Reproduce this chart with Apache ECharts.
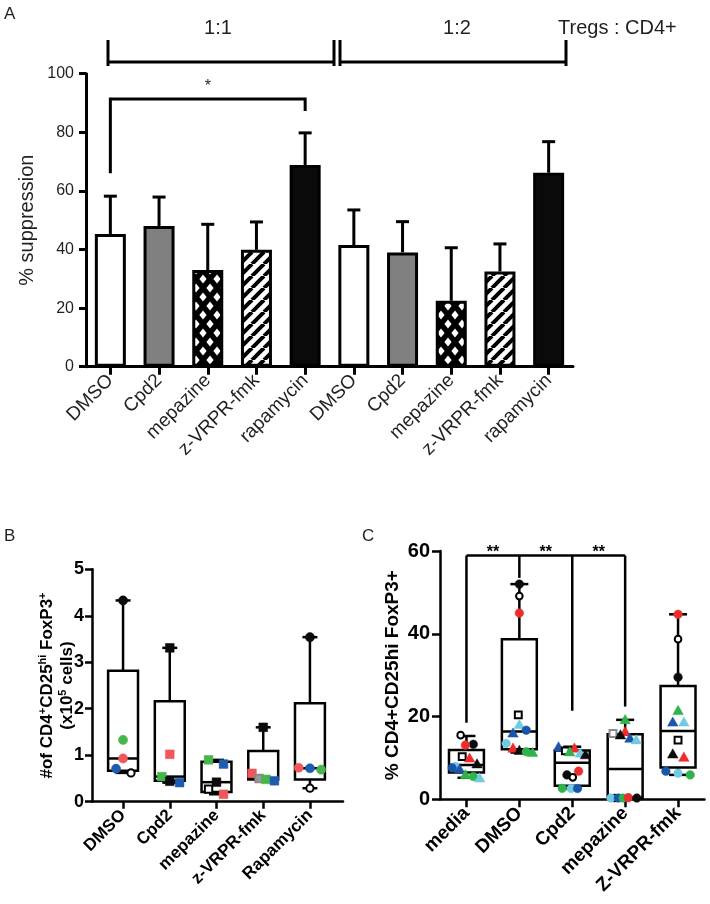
<!DOCTYPE html>
<html><head><meta charset="utf-8">
<script src="https://cdn.jsdelivr.net/npm/echarts@6/dist/echarts.min.js"></script>
<style>html,body{margin:0;padding:0;background:#fff}#c{width:710px;height:904px}</style>
</head><body><div id="c"></div>
<script>
// ---------------- Panel A data ----------------
const catsA = ['DMSO','Cpd2','mepazine','z-VRPR-fmk','rapamycin','DMSO','Cpd2','mepazine','z-VRPR-fmk','rapamycin'];
const meanA = [45.3, 48.0, 33.0, 39.9, 68.8, 41.5, 39.0, 22.5, 32.5, 66.2];
const sdA   = [12.9, 9.9, 15.6, 9.5, 11.0, 12.0, 10.5, 18.1, 9.4, 10.6];
const fillA = ['white','gray','cross','stripe','black','white','gray','cross','stripe','black'];
const groupLabelsA = ['1:1', '1:2', 'Tregs : CD4+'];
const sigPairA = [0, 4];
const sigLegsA = [66, 91.4, 87.3];
const sigTextA = '*';

// ---------------- Panel B data ----------------
const catsB = ['DMSO','Cpd2','mepazine','z-VRPR-fmk','Rapamycin'];
// [min, q1, median, q3, max]
const boxB = [
  [0.62, 0.665, 0.93, 2.82, 4.33],
  [0.41, 0.45, 0.54, 2.16, 3.31],
  [0.16, 0.21, 0.42, 0.86, 0.90],
  [0.45, 0.48, 0.50, 1.09, 1.60],
  [0.29, 0.48, 0.72, 2.12, 3.54]
];
const ptCatB = [0,0,0,0,0, 1,1,1,1,1, 2,2,2,2,2, 3,3,3,3,3, 4,4,4,4,4];
const ptValB = [4.33,1.33,0.93,0.71,0.62, 3.31,1.02,0.54,0.44,0.41, 0.90,0.81,0.42,0.27,0.16, 1.60,0.61,0.50,0.48,0.45, 3.54,0.73,0.72,0.69,0.29];
const ptMarkB = ['cK','cG','cR','cB','cO', 'sK','sR','sG','sK','sB', 'sG','sB','sK','sO','sR', 'sK','sR','sY','sG','sB', 'cK','cR','cB','cG','cO'];
const ptJitB = [0,0,0,-0.15,0.17, 0,0,-0.17,0,0.21, -0.17,0.15,0,-0.17,0.15, 0,-0.24,-0.09,0.06,0.24, 0,-0.24,0,0.24,0];

// ---------------- Panel C data ----------------
const catsC = ['media','DMSO','Cpd2','mepazine','Z-VRPR-fmk'];
const boxC = [
  [5.2, 6.5, 8.3, 11.9, 15.3],
  [11.3, 12.1, 16.4, 38.7, 52.0],
  [2.6, 3.3, 8.85, 11.8, 12.7],
  [0.3, 0.4, 7.3, 15.7, 19.2],
  [5.9, 7.7, 16.5, 27.4, 44.7]
];
const ptCatC = [].concat(...[0,1,2,3,4].map(i => Array(12).fill(i)));
const ptValC = [
  15.5,13.3,13.1,10.3,9.9,8.5,7.9,7.6,7.25,5.9,5.5,5.1,
  52.0,49.1,45.0,20.4,18.0,16.7,15.95,13.5,12.3,11.75,11.5,11.25,
  12.6,12.3,11.7,11.4,11.1,10.7,6.8,5.9,5.3,2.65,2.6,2.6,
  19.2,16.3,15.9,15.5,14.7,14.3,0.3,0.3,0.3,0.3,0.4,0.3,
  44.7,38.7,29.5,21.4,18.6,18.6,14.3,10.9,10.1,6.8,6.3,5.9
];
const ptMarkC = [
  'cO','cK','cR','sO','tR','tK','cC','cB','tB','tG','cG','tC',
  'cK','cO','cR','sO','tC','cB','tB','cC','tR','tK','cG','tG',
  'tB','tR','sO','tG','tC','tK','cR','cK','cO','cG','cC','cB',
  'tG','tR','sY','tK','tB','tC','cO','cC','cB','cG','cR','cK',
  'cR','cO','cK','tG','tB','tC','sO','tK','tR','cB','cC','cG'
];
const ptJitC = [
  -0.11,0.13,-0.02,-0.08,0.06,0.2,-0.21,-0.27,-0.13,-0.02,0.13,0.25,
  0,0,0,-0.02,0,0.13,-0.12,-0.25,-0.12,0,0.13,0.25,
  -0.26,0.04,-0.13,-0.05,0.15,0.25,0.12,-0.1,0.01,-0.19,-0.02,0.1,
  0,0,-0.23,-0.09,0.09,0.21,-0.2,-0.27,-0.13,-0.04,0.06,0.22,
  0,0,0,0,-0.1,0.11,0,-0.1,0.11,-0.23,0,0.23
];
const sigTopC = 58.9;
const sigLegLowC = [18.5, 53.5, 21.4, 22.4];
const sigTextC = ['**','**','**'];

// ---------------- styles ----------------
const FONT = 'Liberation Sans, Arial, Helvetica, sans-serif';
const colB = {K:'#0b0b0b', G:'#46b54b', R:'#f0575a', B:'#1f5cb0', C:'#70c8e0', O:'#ffffff', Y:'#9a9a9a'};
const colC = {K:'#0b0b0b', G:'#2fb34a', R:'#ee2c2c', B:'#1a55a8', C:'#6fcae2', O:'#ffffff', Y:'#ffffff'};

function makePattern(kind) {
  const c = document.createElement('canvas');
  const g = c.getContext('2d');
  if (kind === 'cross') {
    c.width = 14; c.height = 18;
    g.fillStyle = '#000'; g.fillRect(0, 0, 14, 18);
    g.fillStyle = '#fff';
    const dia = (cx, cy) => { g.beginPath(); g.moveTo(cx, cy - 4.4); g.lineTo(cx + 3.6, cy); g.lineTo(cx, cy + 4.4); g.lineTo(cx - 3.6, cy); g.closePath(); g.fill(); };
    [[0,0],[14,0],[0,18],[14,18],[7,9]].forEach(p => dia(p[0], p[1]));
  } else {
    c.width = 12; c.height = 12;
    g.fillStyle = '#fff'; g.fillRect(0, 0, 12, 12);
    g.strokeStyle = '#000'; g.lineWidth = 4;
    [-12, 0, 12].forEach(k => { g.beginPath(); g.moveTo(k, 12); g.lineTo(k + 12, 0); g.stroke(); });
  }
  return { image: c, repeat: 'repeat' };
}
const fills = { white: '#ffffff', gray: '#808080', black: '#0a0a0a', cross: makePattern('cross'), stripe: makePattern('stripe') };

function boxRender(frac, capFrac, lw) {
  return function (params, api) {
    const i = api.value(0);
    const bw = api.size([1, 0])[0];
    const w = bw * frac, cw = bw * capFrac;
    const pMin = api.coord([i, api.value(1)]), pQ1 = api.coord([i, api.value(2)]), pMed = api.coord([i, api.value(3)]),
          pQ3 = api.coord([i, api.value(4)]), pMax = api.coord([i, api.value(5)]);
    const x = pMin[0];
    const st = { stroke: '#000', lineWidth: lw, fill: null };
    return { type: 'group', children: [
      { type: 'line', shape: { x1: x, y1: pQ3[1], x2: x, y2: pMax[1] }, style: st },
      { type: 'line', shape: { x1: x, y1: pQ1[1], x2: x, y2: pMin[1] }, style: st },
      { type: 'line', shape: { x1: x - cw / 2, y1: pMax[1], x2: x + cw / 2, y2: pMax[1] }, style: st },
      { type: 'line', shape: { x1: x - cw / 2, y1: pMin[1], x2: x + cw / 2, y2: pMin[1] }, style: st },
      { type: 'rect', shape: { x: x - w / 2, y: pQ3[1], width: w, height: pQ1[1] - pQ3[1] }, style: { stroke: '#000', lineWidth: lw, fill: 'rgba(0,0,0,0)' } },
      { type: 'line', shape: { x1: x - w / 2, y1: pMed[1], x2: x + w / 2, y2: pMed[1] }, style: st }
    ]};
  };
}

function pointRender(marks, jits, cols, r) {
  return function (params, api) {
    const idx = params.dataIndex;
    const p = api.coord([api.value(0), api.value(1)]);
    const bw = api.size([1, 0])[0];
    const x = p[0] + jits[idx] * bw, y = p[1];
    const m = marks[idx];
    const shape = m[0], ck = m[1];
    const open = (ck === 'O' || ck === 'Y');
    const fill = cols[ck];
    const stroke = open ? (ck === 'Y' ? '#8a8a8a' : '#000') : fill;
    const lw = open ? 2 : 0.5;
    if (shape === 'c') {
      return { type: 'circle', shape: { cx: x, cy: y, r: open ? r - 1 : r }, style: { fill: fill, stroke: stroke, lineWidth: lw } };
    } else if (shape === 's') {
      const s = open ? r * 1.6 : r * 1.9;
      return { type: 'rect', shape: { x: x - s / 2, y: y - s / 2, width: s, height: s }, style: { fill: fill, stroke: stroke, lineWidth: lw } };
    } else {
      const h = r * 2.1;
      return { type: 'polygon', shape: { points: [[x, y - h * 0.6], [x + h * 0.58, y + h * 0.42], [x - h * 0.58, y + h * 0.42]] }, style: { fill: fill, stroke: stroke, lineWidth: lw } };
    }
  };
}

const chart = echarts.init(document.getElementById('c'), null, { renderer: 'canvas' });

const axisLineA = { show: true, lineStyle: { color: '#000', width: 3 } };
const axisLineBC = { show: true, lineStyle: { color: '#000', width: 2.5 } };

const option = {
  animation: false,
  backgroundColor: '#fff',
  textStyle: { fontFamily: FONT },
  grid: [
    { left: 86, top: 73.7, right: 137, bottom: 537.3 },
    { left: 99.7, top: 569.3, right: 376.7, bottom: 102.3 },
    { left: 92, top: 569.3, right: 367, bottom: 102.3 },
    { left: 440, top: 551, right: 5.5, bottom: 104.7 }
  ],
  xAxis: [
    { gridIndex: 0, type: 'category', data: catsA, boundaryGap: true,
      axisLine: axisLineA, axisTick: { show: true, alignWithLabel: true, length: 8, lineStyle: { width: 3, color: '#000' } },
      axisLabel: { interval: 0, rotate: 45, fontSize: 19, color: '#231f20', margin: 11, fontFamily: FONT }, splitLine: { show: false } },
    { gridIndex: 1, type: 'category', data: catsB, boundaryGap: true,
      axisLine: { show: false }, axisTick: { show: true, alignWithLabel: true, length: 7, lineStyle: { width: 2.5, color: '#000' } },
      axisLabel: { interval: 0, rotate: 45, fontSize: 17, fontWeight: 'bold', color: '#000', margin: 11, fontFamily: FONT }, splitLine: { show: false } },
    { gridIndex: 2, type: 'value', min: 0, max: 1, axisLine: axisLineBC, axisTick: { show: false }, axisLabel: { show: false }, splitLine: { show: false } },
    { gridIndex: 3, type: 'category', data: catsC, boundaryGap: true,
      axisLine: axisLineBC, axisTick: { show: true, alignWithLabel: true, length: 8, lineStyle: { width: 2.5, color: '#000' } },
      axisLabel: { interval: 0, rotate: 45, fontSize: 19, fontWeight: 'bold', color: '#000', margin: 11, fontFamily: FONT }, splitLine: { show: false } }
  ],
  yAxis: [
    { gridIndex: 0, type: 'value', min: 0, max: 100, interval: 20,
      axisLine: axisLineA, axisTick: { show: true, length: 7, lineStyle: { width: 3, color: '#000' } },
      axisLabel: { fontSize: 16, color: '#231f20', margin: 12, fontFamily: FONT }, splitLine: { show: false },
      name: '% suppression', nameLocation: 'middle', nameRotate: 90, nameGap: 49, nameMoveOverlap: false,
      nameTextStyle: { fontSize: 20, color: '#231f20', fontFamily: FONT } },
    { gridIndex: 1, type: 'value', min: 0, max: 5, interval: 1, offset: 7.7,
      axisLine: axisLineBC, axisTick: { show: true, length: 7, lineStyle: { width: 2.5, color: '#000' } },
      axisLabel: { fontSize: 18, fontWeight: 'bold', color: '#000', margin: 8, fontFamily: FONT }, splitLine: { show: false },
      name: '{m|#of CD4}{s|+}{m|CD25}{s|hi}{m| FoxP3}{s|+}\n{m|(x10}{s|5}{m| cells)}',
      nameLocation: 'middle', nameRotate: 90, nameGap: 15, nameMoveOverlap: false,
      nameTextStyle: { fontSize: 17, fontWeight: 'bold', color: '#000', fontFamily: FONT, lineHeight: 20,
        rich: { m: { fontSize: 17, fontWeight: 'bold', color: '#000', fontFamily: FONT, lineHeight: 20 },
                s: { fontSize: 11, fontWeight: 'bold', color: '#000', fontFamily: FONT, lineHeight: 12, verticalAlign: 'top' } } } },
    { gridIndex: 2, type: 'value', show: false, min: 0, max: 1 },
    { gridIndex: 3, type: 'value', min: 0, max: 60, interval: 20,
      axisLine: axisLineBC, axisTick: { show: true, length: 8, lineStyle: { width: 2.5, color: '#000' } },
      axisLabel: { fontSize: 20, fontWeight: 'bold', color: '#000', margin: 10, fontFamily: FONT }, splitLine: { show: false },
      name: '% CD4+CD25hi FoxP3+', nameLocation: 'middle', nameRotate: 90, nameGap: 38, nameMoveOverlap: false,
      nameTextStyle: { fontSize: 19, fontWeight: 'bold', color: '#000', fontFamily: FONT } }
  ],
  series: [
    { type: 'bar', xAxisIndex: 0, yAxisIndex: 0, barWidth: 31, z: 2,
      data: meanA.map((v, i) => ({ value: v, itemStyle: { color: fills[fillA[i]], borderColor: '#000', borderWidth: 3 } })) },
    { type: 'custom', xAxisIndex: 0, yAxisIndex: 0, z: 3, clip: false,
      data: meanA.map((v, i) => [i, v, sdA[i]]), encode: { x: 0, y: 1 },
      renderItem: function (params, api) {
        const i = api.value(0);
        const base = api.coord([i, api.value(1)]);
        const top = api.coord([i, api.value(1) + api.value(2)]);
        const st = { stroke: '#000', lineWidth: 3 };
        return { type: 'group', children: [
          { type: 'line', shape: { x1: base[0], y1: base[1], x2: top[0], y2: top[1] }, style: st },
          { type: 'line', shape: { x1: top[0] - 6.5, y1: top[1], x2: top[0] + 6.5, y2: top[1] }, style: st }
        ]};
      } },
    { type: 'custom', xAxisIndex: 0, yAxisIndex: 0, z: 3, clip: false,
      data: [[sigPairA[0], sigLegsA[0]]], encode: { x: 0, y: 1 },
      renderItem: function (params, api) {
        const a = api.coord([sigPairA[0], sigLegsA[0]]);
        const t1 = api.coord([sigPairA[0], sigLegsA[1]]);
        const t2 = api.coord([sigPairA[1], sigLegsA[1]]);
        const b = api.coord([sigPairA[1], sigLegsA[2]]);
        return { type: 'group', children: [
          { type: 'polyline', shape: { points: [a, t1, t2, b] }, style: { stroke: '#000', lineWidth: 3, fill: null } },
          { type: 'text', x: (t1[0] + t2[0]) / 2, y: t1[1] - 12.5,
            style: { text: sigTextA, font: '16px ' + FONT, fill: '#231f20', align: 'center', verticalAlign: 'middle' } }
        ]};
      } },
    { type: 'custom', xAxisIndex: 1, yAxisIndex: 1, z: 3, clip: false,
      data: boxB.map((b, i) => [i].concat(b)), encode: { x: 0, y: [1, 2, 3, 4, 5] },
      renderItem: boxRender(0.64, 0.32, 2.5) },
    { type: 'custom', xAxisIndex: 1, yAxisIndex: 1, z: 4, clip: false,
      data: ptValB.map((v, i) => [ptCatB[i], v]), encode: { x: 0, y: 1 },
      renderItem: pointRender(ptMarkB, ptJitB, colB, 4.6) },
    { type: 'custom', xAxisIndex: 3, yAxisIndex: 3, z: 3, clip: false,
      data: boxC.map((b, i) => [i].concat(b)), encode: { x: 0, y: [1, 2, 3, 4, 5] },
      renderItem: boxRender(0.66, 0.34, 2.5) },
    { type: 'custom', xAxisIndex: 3, yAxisIndex: 3, z: 4, clip: false,
      data: ptValC.map((v, i) => [ptCatC[i], v]), encode: { x: 0, y: 1 },
      renderItem: pointRender(ptMarkC, ptJitC, colC, 4.3) },
    { type: 'custom', xAxisIndex: 3, yAxisIndex: 3, z: 3, clip: false,
      data: [[0, sigTopC]], encode: { x: 0, y: 1 },
      renderItem: function (params, api) {
        const st = { stroke: '#000', lineWidth: 2.5, fill: null };
        const n = sigLegLowC.length;
        const L = api.coord([0, sigTopC]), R = api.coord([n - 1, sigTopC]);
        const children = [{ type: 'line', shape: { x1: L[0], y1: L[1], x2: R[0], y2: R[1] }, style: st }];
        sigLegLowC.forEach((low, i) => {
          const t = api.coord([i, sigTopC]), b = api.coord([i, low]);
          children.push({ type: 'line', shape: { x1: t[0], y1: t[1], x2: b[0], y2: b[1] }, style: st });
        });
        sigTextC.forEach((s, i) => {
          const p1 = api.coord([i, sigTopC]), p2 = api.coord([i + 1, sigTopC]);
          children.push({ type: 'text', x: (p1[0] + p2[0]) / 2, y: p1[1] - 3,
            style: { text: s, font: 'bold 16px ' + FONT, fill: '#000', align: 'center', verticalAlign: 'middle' } });
        });
        return { type: 'group', children: children };
      } }
  ],
  graphic: [
    { type: 'text', left: 4, top: 6, style: { text: 'A', font: '17px ' + FONT, fill: '#231f20' } },
    { type: 'text', left: 4, top: 528, style: { text: 'B', font: '17px ' + FONT, fill: '#231f20' } },
    { type: 'text', left: 362, top: 528, style: { text: 'C', font: '17px ' + FONT, fill: '#231f20' } },
    { type: 'line', shape: { x1: 108, y1: 62, x2: 334, y2: 62 }, style: { stroke: '#000', lineWidth: 3 } },
    { type: 'line', shape: { x1: 340, y1: 62, x2: 566, y2: 62 }, style: { stroke: '#000', lineWidth: 3 } },
    { type: 'line', shape: { x1: 108, y1: 40, x2: 108, y2: 66 }, style: { stroke: '#000', lineWidth: 3 } },
    { type: 'line', shape: { x1: 334, y1: 40, x2: 334, y2: 66 }, style: { stroke: '#000', lineWidth: 3 } },
    { type: 'line', shape: { x1: 340, y1: 40, x2: 340, y2: 66 }, style: { stroke: '#000', lineWidth: 3 } },
    { type: 'line', shape: { x1: 566, y1: 40, x2: 566, y2: 66 }, style: { stroke: '#000', lineWidth: 3 } },
    { type: 'text', x: 218, y: 28, style: { text: groupLabelsA[0], font: '20px ' + FONT, fill: '#231f20', align: 'center', verticalAlign: 'middle' } },
    { type: 'text', x: 457, y: 28, style: { text: groupLabelsA[1], font: '20px ' + FONT, fill: '#231f20', align: 'center', verticalAlign: 'middle' } },
    { type: 'text', x: 558, y: 28, style: { text: groupLabelsA[2], font: '20px ' + FONT, fill: '#231f20', align: 'left', verticalAlign: 'middle' } }
  ]
};
chart.setOption(option);
</script>
</body></html>
